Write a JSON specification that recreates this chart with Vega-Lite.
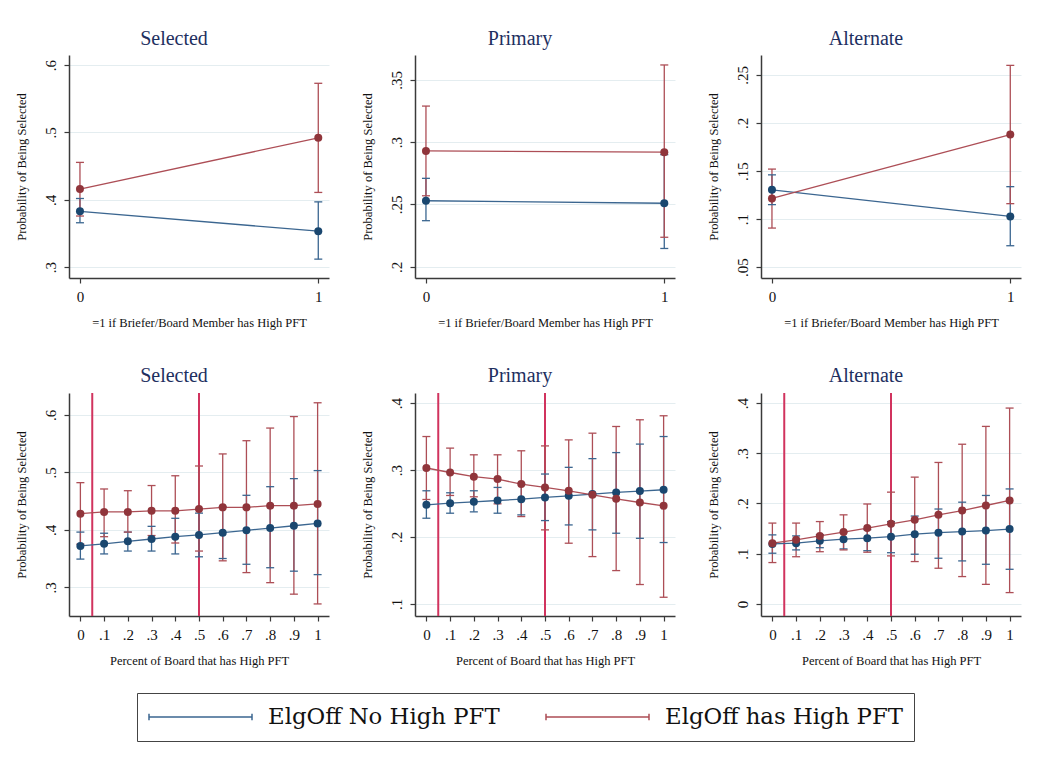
{
  "$schema": "https://vega.github.io/schema/vega-lite/v6.json",
  "padding": {"left": 15, "top": 29, "right": 10, "bottom": 10},
  "background": "white",
  "datasets": {
    "TL": [
      {"group": "ElgOff No High PFT", "x": 0, "y": 0.383, "lo": 0.366, "hi": 0.402},
      {"group": "ElgOff No High PFT", "x": 1, "y": 0.3535, "lo": 0.312, "hi": 0.397},
      {"group": "ElgOff has High PFT", "x": 0, "y": 0.416, "lo": 0.376, "hi": 0.4556},
      {"group": "ElgOff has High PFT", "x": 1, "y": 0.492, "lo": 0.411, "hi": 0.573}
    ],
    "TM": [
      {"group": "ElgOff No High PFT", "x": 0, "y": 0.253, "lo": 0.237, "hi": 0.271},
      {"group": "ElgOff No High PFT", "x": 1, "y": 0.251, "lo": 0.2147, "hi": 0.29},
      {"group": "ElgOff has High PFT", "x": 0, "y": 0.293, "lo": 0.257, "hi": 0.329},
      {"group": "ElgOff has High PFT", "x": 1, "y": 0.292, "lo": 0.2237, "hi": 0.362}
    ],
    "TR": [
      {"group": "ElgOff No High PFT", "x": 0, "y": 0.1304, "lo": 0.115, "hi": 0.146},
      {"group": "ElgOff No High PFT", "x": 1, "y": 0.1027, "lo": 0.0722, "hi": 0.1337},
      {"group": "ElgOff has High PFT", "x": 0, "y": 0.1214, "lo": 0.0906, "hi": 0.152},
      {"group": "ElgOff has High PFT", "x": 1, "y": 0.188, "lo": 0.116, "hi": 0.26}
    ],
    "BL": [
      {"group": "ElgOff No High PFT", "x": 0, "y": 0.372, "lo": 0.349, "hi": 0.396},
      {"group": "ElgOff No High PFT", "x": 0.1, "y": 0.3755, "lo": 0.358, "hi": 0.394},
      {"group": "ElgOff No High PFT", "x": 0.2, "y": 0.38, "lo": 0.363, "hi": 0.396},
      {"group": "ElgOff No High PFT", "x": 0.3, "y": 0.384, "lo": 0.363, "hi": 0.406},
      {"group": "ElgOff No High PFT", "x": 0.4, "y": 0.388, "lo": 0.358, "hi": 0.42},
      {"group": "ElgOff No High PFT", "x": 0.5, "y": 0.391, "lo": 0.353, "hi": 0.429},
      {"group": "ElgOff No High PFT", "x": 0.6, "y": 0.395, "lo": 0.35, "hi": 0.44},
      {"group": "ElgOff No High PFT", "x": 0.7, "y": 0.399, "lo": 0.34, "hi": 0.46},
      {"group": "ElgOff No High PFT", "x": 0.8, "y": 0.403, "lo": 0.334, "hi": 0.475},
      {"group": "ElgOff No High PFT", "x": 0.9, "y": 0.407, "lo": 0.328, "hi": 0.489},
      {"group": "ElgOff No High PFT", "x": 1, "y": 0.411, "lo": 0.322, "hi": 0.503},
      {"group": "ElgOff has High PFT", "x": 0, "y": 0.428, "lo": 0.375, "hi": 0.482},
      {"group": "ElgOff has High PFT", "x": 0.1, "y": 0.431, "lo": 0.388, "hi": 0.471},
      {"group": "ElgOff has High PFT", "x": 0.2, "y": 0.431, "lo": 0.396, "hi": 0.468},
      {"group": "ElgOff has High PFT", "x": 0.3, "y": 0.433, "lo": 0.39, "hi": 0.477},
      {"group": "ElgOff has High PFT", "x": 0.4, "y": 0.433, "lo": 0.377, "hi": 0.494},
      {"group": "ElgOff has High PFT", "x": 0.5, "y": 0.436, "lo": 0.363, "hi": 0.511},
      {"group": "ElgOff has High PFT", "x": 0.6, "y": 0.439, "lo": 0.346, "hi": 0.532},
      {"group": "ElgOff has High PFT", "x": 0.7, "y": 0.439, "lo": 0.3255, "hi": 0.555},
      {"group": "ElgOff has High PFT", "x": 0.8, "y": 0.442, "lo": 0.308, "hi": 0.577},
      {"group": "ElgOff has High PFT", "x": 0.9, "y": 0.442, "lo": 0.288, "hi": 0.597},
      {"group": "ElgOff has High PFT", "x": 1, "y": 0.445, "lo": 0.271, "hi": 0.621}
    ],
    "BM": [
      {"group": "ElgOff No High PFT", "x": 0, "y": 0.248, "lo": 0.228, "hi": 0.269},
      {"group": "ElgOff No High PFT", "x": 0.1, "y": 0.2505, "lo": 0.2355, "hi": 0.266},
      {"group": "ElgOff No High PFT", "x": 0.2, "y": 0.2525, "lo": 0.2375, "hi": 0.269},
      {"group": "ElgOff No High PFT", "x": 0.3, "y": 0.2545, "lo": 0.2355, "hi": 0.274},
      {"group": "ElgOff No High PFT", "x": 0.4, "y": 0.2565, "lo": 0.233, "hi": 0.28},
      {"group": "ElgOff No High PFT", "x": 0.5, "y": 0.259, "lo": 0.2245, "hi": 0.294},
      {"group": "ElgOff No High PFT", "x": 0.6, "y": 0.2615, "lo": 0.218, "hi": 0.304},
      {"group": "ElgOff No High PFT", "x": 0.7, "y": 0.264, "lo": 0.2106, "hi": 0.317},
      {"group": "ElgOff No High PFT", "x": 0.8, "y": 0.2665, "lo": 0.2056, "hi": 0.326},
      {"group": "ElgOff No High PFT", "x": 0.9, "y": 0.2685, "lo": 0.198, "hi": 0.3387},
      {"group": "ElgOff No High PFT", "x": 1, "y": 0.2705, "lo": 0.1917, "hi": 0.35},
      {"group": "ElgOff has High PFT", "x": 0, "y": 0.303, "lo": 0.256, "hi": 0.35},
      {"group": "ElgOff has High PFT", "x": 0.1, "y": 0.2963, "lo": 0.262, "hi": 0.3327},
      {"group": "ElgOff has High PFT", "x": 0.2, "y": 0.29, "lo": 0.26, "hi": 0.3227},
      {"group": "ElgOff has High PFT", "x": 0.3, "y": 0.2864, "lo": 0.2495, "hi": 0.3227},
      {"group": "ElgOff has High PFT", "x": 0.4, "y": 0.279, "lo": 0.2305, "hi": 0.3287},
      {"group": "ElgOff has High PFT", "x": 0.5, "y": 0.274, "lo": 0.2106, "hi": 0.336},
      {"group": "ElgOff has High PFT", "x": 0.6, "y": 0.269, "lo": 0.1907, "hi": 0.345},
      {"group": "ElgOff has High PFT", "x": 0.7, "y": 0.263, "lo": 0.1707, "hi": 0.355},
      {"group": "ElgOff has High PFT", "x": 0.8, "y": 0.257, "lo": 0.1498, "hi": 0.365},
      {"group": "ElgOff has High PFT", "x": 0.9, "y": 0.2515, "lo": 0.129, "hi": 0.375},
      {"group": "ElgOff has High PFT", "x": 1, "y": 0.2465, "lo": 0.11, "hi": 0.381}
    ],
    "BR": [
      {"group": "ElgOff No High PFT", "x": 0, "y": 0.1196, "lo": 0.101, "hi": 0.1375},
      {"group": "ElgOff No High PFT", "x": 0.1, "y": 0.121, "lo": 0.1076, "hi": 0.1355},
      {"group": "ElgOff No High PFT", "x": 0.2, "y": 0.1256, "lo": 0.112, "hi": 0.138},
      {"group": "ElgOff No High PFT", "x": 0.3, "y": 0.129, "lo": 0.1096, "hi": 0.143},
      {"group": "ElgOff No High PFT", "x": 0.4, "y": 0.131, "lo": 0.106, "hi": 0.148},
      {"group": "ElgOff No High PFT", "x": 0.5, "y": 0.134, "lo": 0.102, "hi": 0.164},
      {"group": "ElgOff No High PFT", "x": 0.6, "y": 0.139, "lo": 0.099, "hi": 0.175},
      {"group": "ElgOff No High PFT", "x": 0.7, "y": 0.142, "lo": 0.091, "hi": 0.189},
      {"group": "ElgOff No High PFT", "x": 0.8, "y": 0.144, "lo": 0.0857, "hi": 0.2026},
      {"group": "ElgOff No High PFT", "x": 0.9, "y": 0.146, "lo": 0.079, "hi": 0.216},
      {"group": "ElgOff No High PFT", "x": 1, "y": 0.149, "lo": 0.069, "hi": 0.229},
      {"group": "ElgOff has High PFT", "x": 0, "y": 0.121, "lo": 0.0824, "hi": 0.161},
      {"group": "ElgOff has High PFT", "x": 0.1, "y": 0.1276, "lo": 0.094, "hi": 0.161},
      {"group": "ElgOff has High PFT", "x": 0.2, "y": 0.1355, "lo": 0.104, "hi": 0.164},
      {"group": "ElgOff has High PFT", "x": 0.3, "y": 0.143, "lo": 0.1076, "hi": 0.1774},
      {"group": "ElgOff has High PFT", "x": 0.4, "y": 0.151, "lo": 0.103, "hi": 0.199},
      {"group": "ElgOff has High PFT", "x": 0.5, "y": 0.1595, "lo": 0.0957, "hi": 0.2226},
      {"group": "ElgOff has High PFT", "x": 0.6, "y": 0.1674, "lo": 0.0844, "hi": 0.2525},
      {"group": "ElgOff has High PFT", "x": 0.7, "y": 0.1774, "lo": 0.0711, "hi": 0.2817},
      {"group": "ElgOff has High PFT", "x": 0.8, "y": 0.186, "lo": 0.0545, "hi": 0.318},
      {"group": "ElgOff has High PFT", "x": 0.9, "y": 0.196, "lo": 0.039, "hi": 0.3535},
      {"group": "ElgOff has High PFT", "x": 1, "y": 0.206, "lo": 0.0226, "hi": 0.39}
    ],
    "refs": [{"ref": 0.05}, {"ref": 0.5}]
  },
  "columns": 3,
  "spacing": {"row": 115, "column": 86},
  "bounds": "flush",
  "concat": [
        {
          "width": 260, "height": 223,
          "data": {"name": "TL"},
          "title": "Selected",
          "encoding": {"x": {"field": "x", "type": "quantitative", "scale": {"domain": [-0.046, 1.045], "nice": false, "zero": false}, "axis": {"values": [0, 1]}, "title": "=1 if Briefer/Board Member has High PFT"}},
          "layer": [
            {"mark": {"type": "rule", "strokeWidth": 1.3}, "encoding": {"y": {"field": "lo", "type": "quantitative", "scale": {"domain": [0.284, 0.615], "nice": false, "zero": false}, "axis": {"values": [0.3, 0.4, 0.5, 0.6]}, "title": "Probability of Being Selected"}, "y2": {"field": "hi"}, "stroke": {"field": "group", "type": "nominal", "scale": {"domain": ["ElgOff No High PFT", "ElgOff has High PFT"], "range": ["#3b6690", "#ad4e56"]}, "legend": {"title": null, "symbolType": "M-1,-0.063L-1,0.063M-1,0L1,0M1,-0.063L1,0.063"}}}},
            {"transform": [{"fold": ["lo", "hi"], "as": ["k", "v"]}], "mark": {"type": "point", "shape": "M-1,0L1,0", "size": 64, "filled": false, "strokeWidth": 1.3, "opacity": 1}, "encoding": {"y": {"field": "v", "type": "quantitative", "scale": {"domain": [0.284, 0.615], "nice": false, "zero": false}, "axis": {"values": [0.3, 0.4, 0.5, 0.6]}, "title": "Probability of Being Selected"}, "stroke": {"field": "group", "type": "nominal", "scale": {"domain": ["ElgOff No High PFT", "ElgOff has High PFT"], "range": ["#3b6690", "#ad4e56"]}, "legend": {"title": null, "symbolType": "M-1,-0.063L-1,0.063M-1,0L1,0M1,-0.063L1,0.063"}}}},
            {"mark": {"type": "line", "strokeWidth": 1.3}, "encoding": {"y": {"field": "y", "type": "quantitative", "scale": {"domain": [0.284, 0.615], "nice": false, "zero": false}, "axis": {"values": [0.3, 0.4, 0.5, 0.6]}, "title": "Probability of Being Selected"}, "stroke": {"field": "group", "type": "nominal", "scale": {"domain": ["ElgOff No High PFT", "ElgOff has High PFT"], "range": ["#3b6690", "#ad4e56"]}, "legend": {"title": null, "symbolType": "M-1,-0.063L-1,0.063M-1,0L1,0M1,-0.063L1,0.063"}}}},
            {"mark": {"type": "point", "filled": true, "size": 64, "opacity": 1}, "encoding": {"y": {"field": "y", "type": "quantitative", "scale": {"domain": [0.284, 0.615], "nice": false, "zero": false}, "axis": {"values": [0.3, 0.4, 0.5, 0.6]}, "title": "Probability of Being Selected"}, "fill": {"field": "group", "type": "nominal", "scale": {"domain": ["ElgOff No High PFT", "ElgOff has High PFT"], "range": ["#1a476f", "#90353b"]}, "legend": null}}}
          ]
        },
        {
          "width": 260, "height": 223,
          "data": {"name": "TM"},
          "title": "Primary",
          "encoding": {"x": {"field": "x", "type": "quantitative", "scale": {"domain": [-0.046, 1.045], "nice": false, "zero": false}, "axis": {"values": [0, 1]}, "title": "=1 if Briefer/Board Member has High PFT"}},
          "layer": [
            {"mark": {"type": "rule", "strokeWidth": 1.3}, "encoding": {"y": {"field": "lo", "type": "quantitative", "scale": {"domain": [0.191, 0.37], "nice": false, "zero": false}, "axis": {"values": [0.2, 0.25, 0.3, 0.35]}, "title": "Probability of Being Selected"}, "y2": {"field": "hi"}, "stroke": {"field": "group", "type": "nominal", "scale": {"domain": ["ElgOff No High PFT", "ElgOff has High PFT"], "range": ["#3b6690", "#ad4e56"]}, "legend": {"title": null, "symbolType": "M-1,-0.063L-1,0.063M-1,0L1,0M1,-0.063L1,0.063"}}}},
            {"transform": [{"fold": ["lo", "hi"], "as": ["k", "v"]}], "mark": {"type": "point", "shape": "M-1,0L1,0", "size": 64, "filled": false, "strokeWidth": 1.3, "opacity": 1}, "encoding": {"y": {"field": "v", "type": "quantitative", "scale": {"domain": [0.191, 0.37], "nice": false, "zero": false}, "axis": {"values": [0.2, 0.25, 0.3, 0.35]}, "title": "Probability of Being Selected"}, "stroke": {"field": "group", "type": "nominal", "scale": {"domain": ["ElgOff No High PFT", "ElgOff has High PFT"], "range": ["#3b6690", "#ad4e56"]}, "legend": {"title": null, "symbolType": "M-1,-0.063L-1,0.063M-1,0L1,0M1,-0.063L1,0.063"}}}},
            {"mark": {"type": "line", "strokeWidth": 1.3}, "encoding": {"y": {"field": "y", "type": "quantitative", "scale": {"domain": [0.191, 0.37], "nice": false, "zero": false}, "axis": {"values": [0.2, 0.25, 0.3, 0.35]}, "title": "Probability of Being Selected"}, "stroke": {"field": "group", "type": "nominal", "scale": {"domain": ["ElgOff No High PFT", "ElgOff has High PFT"], "range": ["#3b6690", "#ad4e56"]}, "legend": {"title": null, "symbolType": "M-1,-0.063L-1,0.063M-1,0L1,0M1,-0.063L1,0.063"}}}},
            {"mark": {"type": "point", "filled": true, "size": 64, "opacity": 1}, "encoding": {"y": {"field": "y", "type": "quantitative", "scale": {"domain": [0.191, 0.37], "nice": false, "zero": false}, "axis": {"values": [0.2, 0.25, 0.3, 0.35]}, "title": "Probability of Being Selected"}, "fill": {"field": "group", "type": "nominal", "scale": {"domain": ["ElgOff No High PFT", "ElgOff has High PFT"], "range": ["#1a476f", "#90353b"]}, "legend": null}}}
          ]
        },
        {
          "width": 260, "height": 223,
          "data": {"name": "TR"},
          "title": "Alternate",
          "encoding": {"x": {"field": "x", "type": "quantitative", "scale": {"domain": [-0.046, 1.045], "nice": false, "zero": false}, "axis": {"values": [0, 1]}, "title": "=1 if Briefer/Board Member has High PFT"}},
          "layer": [
            {"mark": {"type": "rule", "strokeWidth": 1.3}, "encoding": {"y": {"field": "lo", "type": "quantitative", "scale": {"domain": [0.0386, 0.2708], "nice": false, "zero": false}, "axis": {"values": [0.05, 0.1, 0.15, 0.2, 0.25]}, "title": "Probability of Being Selected"}, "y2": {"field": "hi"}, "stroke": {"field": "group", "type": "nominal", "scale": {"domain": ["ElgOff No High PFT", "ElgOff has High PFT"], "range": ["#3b6690", "#ad4e56"]}, "legend": {"title": null, "symbolType": "M-1,-0.063L-1,0.063M-1,0L1,0M1,-0.063L1,0.063"}}}},
            {"transform": [{"fold": ["lo", "hi"], "as": ["k", "v"]}], "mark": {"type": "point", "shape": "M-1,0L1,0", "size": 64, "filled": false, "strokeWidth": 1.3, "opacity": 1}, "encoding": {"y": {"field": "v", "type": "quantitative", "scale": {"domain": [0.0386, 0.2708], "nice": false, "zero": false}, "axis": {"values": [0.05, 0.1, 0.15, 0.2, 0.25]}, "title": "Probability of Being Selected"}, "stroke": {"field": "group", "type": "nominal", "scale": {"domain": ["ElgOff No High PFT", "ElgOff has High PFT"], "range": ["#3b6690", "#ad4e56"]}, "legend": {"title": null, "symbolType": "M-1,-0.063L-1,0.063M-1,0L1,0M1,-0.063L1,0.063"}}}},
            {"mark": {"type": "line", "strokeWidth": 1.3}, "encoding": {"y": {"field": "y", "type": "quantitative", "scale": {"domain": [0.0386, 0.2708], "nice": false, "zero": false}, "axis": {"values": [0.05, 0.1, 0.15, 0.2, 0.25]}, "title": "Probability of Being Selected"}, "stroke": {"field": "group", "type": "nominal", "scale": {"domain": ["ElgOff No High PFT", "ElgOff has High PFT"], "range": ["#3b6690", "#ad4e56"]}, "legend": {"title": null, "symbolType": "M-1,-0.063L-1,0.063M-1,0L1,0M1,-0.063L1,0.063"}}}},
            {"mark": {"type": "point", "filled": true, "size": 64, "opacity": 1}, "encoding": {"y": {"field": "y", "type": "quantitative", "scale": {"domain": [0.0386, 0.2708], "nice": false, "zero": false}, "axis": {"values": [0.05, 0.1, 0.15, 0.2, 0.25]}, "title": "Probability of Being Selected"}, "fill": {"field": "group", "type": "nominal", "scale": {"domain": ["ElgOff No High PFT", "ElgOff has High PFT"], "range": ["#1a476f", "#90353b"]}, "legend": null}}}
          ]
        },
        {
          "width": 260, "height": 223,
          "data": {"name": "BL"},
          "title": "Selected",
          "encoding": {"x": {"field": "x", "type": "quantitative", "scale": {"domain": [-0.048, 1.048], "nice": false, "zero": false}, "axis": {"values": [0, 0.1, 0.2, 0.3, 0.4, 0.5, 0.6, 0.7, 0.8, 0.9, 1]}, "title": "Percent of Board that has High PFT"}},
          "layer": [
            {"data": {"name": "refs"}, "mark": {"type": "rule", "color": "#d1335e", "strokeWidth": 2}, "encoding": {"x": {"field": "ref", "type": "quantitative"}}},
            {"mark": {"type": "rule", "strokeWidth": 1.3}, "encoding": {"y": {"field": "lo", "type": "quantitative", "scale": {"domain": [0.25, 0.638], "nice": false, "zero": false}, "axis": {"values": [0.3, 0.4, 0.5, 0.6]}, "title": "Probability of Being Selected"}, "y2": {"field": "hi"}, "stroke": {"field": "group", "type": "nominal", "scale": {"domain": ["ElgOff No High PFT", "ElgOff has High PFT"], "range": ["#3b6690", "#ad4e56"]}, "legend": {"title": null, "symbolType": "M-1,-0.063L-1,0.063M-1,0L1,0M1,-0.063L1,0.063"}}}},
            {"transform": [{"fold": ["lo", "hi"], "as": ["k", "v"]}], "mark": {"type": "point", "shape": "M-1,0L1,0", "size": 64, "filled": false, "strokeWidth": 1.3, "opacity": 1}, "encoding": {"y": {"field": "v", "type": "quantitative", "scale": {"domain": [0.25, 0.638], "nice": false, "zero": false}, "axis": {"values": [0.3, 0.4, 0.5, 0.6]}, "title": "Probability of Being Selected"}, "stroke": {"field": "group", "type": "nominal", "scale": {"domain": ["ElgOff No High PFT", "ElgOff has High PFT"], "range": ["#3b6690", "#ad4e56"]}, "legend": {"title": null, "symbolType": "M-1,-0.063L-1,0.063M-1,0L1,0M1,-0.063L1,0.063"}}}},
            {"mark": {"type": "line", "strokeWidth": 1.3}, "encoding": {"y": {"field": "y", "type": "quantitative", "scale": {"domain": [0.25, 0.638], "nice": false, "zero": false}, "axis": {"values": [0.3, 0.4, 0.5, 0.6]}, "title": "Probability of Being Selected"}, "stroke": {"field": "group", "type": "nominal", "scale": {"domain": ["ElgOff No High PFT", "ElgOff has High PFT"], "range": ["#3b6690", "#ad4e56"]}, "legend": {"title": null, "symbolType": "M-1,-0.063L-1,0.063M-1,0L1,0M1,-0.063L1,0.063"}}}},
            {"mark": {"type": "point", "filled": true, "size": 64, "opacity": 1}, "encoding": {"y": {"field": "y", "type": "quantitative", "scale": {"domain": [0.25, 0.638], "nice": false, "zero": false}, "axis": {"values": [0.3, 0.4, 0.5, 0.6]}, "title": "Probability of Being Selected"}, "fill": {"field": "group", "type": "nominal", "scale": {"domain": ["ElgOff No High PFT", "ElgOff has High PFT"], "range": ["#1a476f", "#90353b"]}, "legend": null}}}
          ]
        },
        {
          "width": 260, "height": 223,
          "data": {"name": "BM"},
          "title": "Primary",
          "encoding": {"x": {"field": "x", "type": "quantitative", "scale": {"domain": [-0.048, 1.048], "nice": false, "zero": false}, "axis": {"values": [0, 0.1, 0.2, 0.3, 0.4, 0.5, 0.6, 0.7, 0.8, 0.9, 1]}, "title": "Percent of Board that has High PFT"}},
          "layer": [
            {"data": {"name": "refs"}, "mark": {"type": "rule", "color": "#d1335e", "strokeWidth": 2}, "encoding": {"x": {"field": "ref", "type": "quantitative"}}},
            {"mark": {"type": "rule", "strokeWidth": 1.3}, "encoding": {"y": {"field": "lo", "type": "quantitative", "scale": {"domain": [0.082, 0.415], "nice": false, "zero": false}, "axis": {"values": [0.1, 0.2, 0.3, 0.4]}, "title": "Probability of Being Selected"}, "y2": {"field": "hi"}, "stroke": {"field": "group", "type": "nominal", "scale": {"domain": ["ElgOff No High PFT", "ElgOff has High PFT"], "range": ["#3b6690", "#ad4e56"]}, "legend": {"title": null, "symbolType": "M-1,-0.063L-1,0.063M-1,0L1,0M1,-0.063L1,0.063"}}}},
            {"transform": [{"fold": ["lo", "hi"], "as": ["k", "v"]}], "mark": {"type": "point", "shape": "M-1,0L1,0", "size": 64, "filled": false, "strokeWidth": 1.3, "opacity": 1}, "encoding": {"y": {"field": "v", "type": "quantitative", "scale": {"domain": [0.082, 0.415], "nice": false, "zero": false}, "axis": {"values": [0.1, 0.2, 0.3, 0.4]}, "title": "Probability of Being Selected"}, "stroke": {"field": "group", "type": "nominal", "scale": {"domain": ["ElgOff No High PFT", "ElgOff has High PFT"], "range": ["#3b6690", "#ad4e56"]}, "legend": {"title": null, "symbolType": "M-1,-0.063L-1,0.063M-1,0L1,0M1,-0.063L1,0.063"}}}},
            {"mark": {"type": "line", "strokeWidth": 1.3}, "encoding": {"y": {"field": "y", "type": "quantitative", "scale": {"domain": [0.082, 0.415], "nice": false, "zero": false}, "axis": {"values": [0.1, 0.2, 0.3, 0.4]}, "title": "Probability of Being Selected"}, "stroke": {"field": "group", "type": "nominal", "scale": {"domain": ["ElgOff No High PFT", "ElgOff has High PFT"], "range": ["#3b6690", "#ad4e56"]}, "legend": {"title": null, "symbolType": "M-1,-0.063L-1,0.063M-1,0L1,0M1,-0.063L1,0.063"}}}},
            {"mark": {"type": "point", "filled": true, "size": 64, "opacity": 1}, "encoding": {"y": {"field": "y", "type": "quantitative", "scale": {"domain": [0.082, 0.415], "nice": false, "zero": false}, "axis": {"values": [0.1, 0.2, 0.3, 0.4]}, "title": "Probability of Being Selected"}, "fill": {"field": "group", "type": "nominal", "scale": {"domain": ["ElgOff No High PFT", "ElgOff has High PFT"], "range": ["#1a476f", "#90353b"]}, "legend": null}}}
          ]
        },
        {
          "width": 260, "height": 223,
          "data": {"name": "BR"},
          "title": "Alternate",
          "encoding": {"x": {"field": "x", "type": "quantitative", "scale": {"domain": [-0.048, 1.048], "nice": false, "zero": false}, "axis": {"values": [0, 0.1, 0.2, 0.3, 0.4, 0.5, 0.6, 0.7, 0.8, 0.9, 1]}, "title": "Percent of Board that has High PFT"}},
          "layer": [
            {"data": {"name": "refs"}, "mark": {"type": "rule", "color": "#d1335e", "strokeWidth": 2}, "encoding": {"x": {"field": "ref", "type": "quantitative"}}},
            {"mark": {"type": "rule", "strokeWidth": 1.3}, "encoding": {"y": {"field": "lo", "type": "quantitative", "scale": {"domain": [-0.024, 0.42], "nice": false, "zero": false}, "axis": {"values": [0, 0.1, 0.2, 0.3, 0.4]}, "title": "Probability of Being Selected"}, "y2": {"field": "hi"}, "stroke": {"field": "group", "type": "nominal", "scale": {"domain": ["ElgOff No High PFT", "ElgOff has High PFT"], "range": ["#3b6690", "#ad4e56"]}, "legend": {"title": null, "symbolType": "M-1,-0.063L-1,0.063M-1,0L1,0M1,-0.063L1,0.063"}}}},
            {"transform": [{"fold": ["lo", "hi"], "as": ["k", "v"]}], "mark": {"type": "point", "shape": "M-1,0L1,0", "size": 64, "filled": false, "strokeWidth": 1.3, "opacity": 1}, "encoding": {"y": {"field": "v", "type": "quantitative", "scale": {"domain": [-0.024, 0.42], "nice": false, "zero": false}, "axis": {"values": [0, 0.1, 0.2, 0.3, 0.4]}, "title": "Probability of Being Selected"}, "stroke": {"field": "group", "type": "nominal", "scale": {"domain": ["ElgOff No High PFT", "ElgOff has High PFT"], "range": ["#3b6690", "#ad4e56"]}, "legend": {"title": null, "symbolType": "M-1,-0.063L-1,0.063M-1,0L1,0M1,-0.063L1,0.063"}}}},
            {"mark": {"type": "line", "strokeWidth": 1.3}, "encoding": {"y": {"field": "y", "type": "quantitative", "scale": {"domain": [-0.024, 0.42], "nice": false, "zero": false}, "axis": {"values": [0, 0.1, 0.2, 0.3, 0.4]}, "title": "Probability of Being Selected"}, "stroke": {"field": "group", "type": "nominal", "scale": {"domain": ["ElgOff No High PFT", "ElgOff has High PFT"], "range": ["#3b6690", "#ad4e56"]}, "legend": {"title": null, "symbolType": "M-1,-0.063L-1,0.063M-1,0L1,0M1,-0.063L1,0.063"}}}},
            {"mark": {"type": "point", "filled": true, "size": 64, "opacity": 1}, "encoding": {"y": {"field": "y", "type": "quantitative", "scale": {"domain": [-0.024, 0.42], "nice": false, "zero": false}, "axis": {"values": [0, 0.1, 0.2, 0.3, 0.4]}, "title": "Probability of Being Selected"}, "fill": {"field": "group", "type": "nominal", "scale": {"domain": ["ElgOff No High PFT", "ElgOff has High PFT"], "range": ["#1a476f", "#90353b"]}, "legend": null}}}
          ]
        }
  ],
  "config": {
    "view": {"stroke": null},
    "font": "Liberation Serif",
    "axis": {
      "domainColor": "#3a3a3a", "domainWidth": 1.5, "tickColor": "#3a3a3a", "tickWidth": 1.2, "tickSize": 5,
      "labelFont": "Liberation Serif", "labelFontSize": 15, "labelColor": "#111",
      "titleFont": "Liberation Serif", "titleFontSize": 12.5, "titleFontWeight": "normal", "titleColor": "#111",
      "grid": false,
      "labelExpr": "datum.value == 0 || datum.value == 1 ? format(datum.value, 'd') : substring(format(datum.value, '.2~f'), 1)"
    },
    "axisX": {"labelPadding": 6, "titlePadding": 12, "labelFlush": false},
    "axisY": {"grid": true, "gridColor": "#e4edf0", "gridWidth": 1, "labelAngle": -90, "labelAlign": "center", "labelBaseline": "bottom", "labelPadding": 6, "titlePadding": 15},
    "title": {"font": "Liberation Serif", "fontSize": 20, "fontWeight": "normal", "color": "#1e2f5f", "offset": 6, "dx": -25},
    "legend": {
      "orient": "none", "legendX": 68, "legendY": 638, "direction": "horizontal", "columns": 2,
      "strokeColor": "#444", "padding": 11, "clipHeight": 26, "symbolSize": 10609, "symbolStrokeWidth": 1.5,
      "symbolFillColor": "transparent", "labelLimit": 0,
      "labelFont": "DejaVu Serif", "labelFontSize": 22.8, "labelColor": "#111", "labelOffset": 15, "columnPadding": 45
    }
  }
}
